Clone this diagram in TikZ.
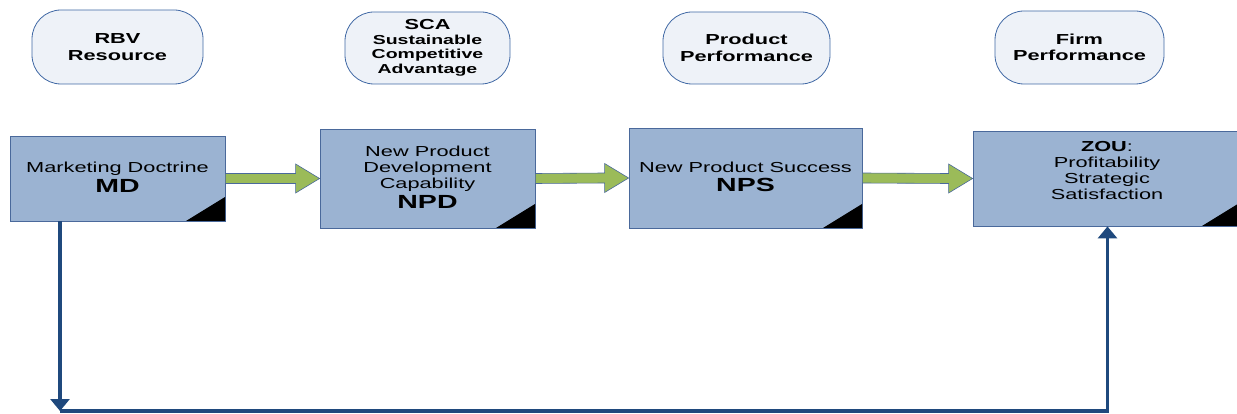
\documentclass[tikz,border=0pt]{standalone}
\usepackage{fontspec}
\setmainfont{Liberation Sans}
\usepackage{graphicx}
\usetikzlibrary{arrows.meta,calc}
\definecolor{boxfill}{RGB}{155,179,210}
\definecolor{boxline}{RGB}{74,105,155}
\definecolor{ovalfill}{RGB}{238,242,248}
\definecolor{ovalline}{RGB}{65,105,165}
\definecolor{arrowgreen}{RGB}{155,187,89}
\definecolor{linkblue}{RGB}{31,73,125}
\newcommand{\hs}[1]{\scalebox{1.5}[1]{#1}}
\newcommand{\hsmall}[1]{\scalebox{1.5}[1]{\fontsize{13}{14.5}\selectfont #1}}
\tikzset{
  oval/.style={draw=ovalline, fill=ovalfill, line width=0.8pt, rounded corners=29pt,
    align=center, inner sep=0pt, font=\bfseries\fontsize{14.5}{16.5}\selectfont},
  box/.style={draw=boxline, fill=boxfill, line width=0.8pt, inner sep=0pt},
  boxtext/.style={align=center, inner sep=0pt, font=\fontsize{14.5}{16}\selectfont},
  cornermark/.style={fill=black},
  fat/.style={fill=arrowgreen, draw=boxline, line width=0.6pt, line join=miter},
  link/.style={draw=linkblue, line width=3.5pt, -{Triangle[width=19pt,length=12pt]}},
}
\begin{document}
\begin{tikzpicture}[x=1pt,y=-1pt]
\useasboundingbox (0,0) rectangle (1237,414);
% ovals
\node[oval, minimum width=171pt, minimum height=74pt] (rbv) at (117.5,47) {\hs{RBV}\\\hs{Resource}};
\node[oval, minimum width=165pt, minimum height=72pt, font=\bfseries\fontsize{13}{14.5}\selectfont] (sca) at (427.5,48)
  {\hs{\fontsize{14.5}{16}\selectfont SCA}\\\hsmall{Sustainable}\\\hsmall{Competitive}\\\hsmall{Advantage}};
\node[oval, minimum width=167pt, minimum height=72pt] (pp) at (746.5,48) {\hs{Product}\\\hs{Performance}};
\node[oval, minimum width=169pt, minimum height=73pt] (fp) at (1079.5,47.5) {\hs{Firm}\\\hs{Performance}};
% boxes
\node[box, minimum width=215pt, minimum height=85pt] (md) at (117.5,178.5) {};
\node[box, minimum width=215pt, minimum height=99pt] (npd) at (427.5,178.5) {};
\node[box, minimum width=233pt, minimum height=100pt] (nps) at (745.5,178) {};
\node[box, minimum width=268pt, minimum height=95pt] (zou) at (1107,178.5) {};
% corner marks
\foreach \b in {md,npd,nps,zou}{
  \fill[cornermark] ($(\b.south east)+(-0.4,-0.4)$) -- ++(-39,0) -- ++(39,-24) -- cycle;
}
% box texts
\node[boxtext] (mdt) at (117.5,177) {\hs{Marketing Doctrine}\\[3pt]\hs{\bfseries\fontsize{19}{20}\selectfont MD}};
\node[boxtext] (npdt) at (427.5,177) {\hs{New Product}\\\hs{Development}\\\hs{Capability}\\[3pt]\hs{\bfseries\fontsize{19}{20}\selectfont NPD}};
\node[boxtext] (npst) at (745.5,177) {\hs{New Product Success}\\[3pt]\hs{\bfseries\fontsize{19}{20}\selectfont NPS}};
\node[boxtext] (zout) at (1107,170.5) {\hs{\textbf{ZOU}:}\\\hs{Profitability}\\\hs{Strategic}\\\hs{Satisfaction}};
% green block arrows
\foreach \a/\b in {md/npd,npd/nps,nps/zou}{
  \draw[fat] ($(\a.east)+(0,-5)$) -- ($(\b.west)+(-24,-5)$) -- ($(\b.west)+(-24,-14.5)$)
    -- (\b.west) -- ($(\b.west)+(-24,14.5)$) -- ($(\b.west)+(-24,5)$) -- ($(\a.east)+(0,5)$) -- cycle;
}
% feedback link
\coordinate (bl) at (60,411);
\coordinate (br) at (1107.5,411);
\draw[link] (md.south -| bl) -- (bl);
\draw[link] (bl) -- (br) -- (zou.south -| br);
\end{tikzpicture}
\end{document}
